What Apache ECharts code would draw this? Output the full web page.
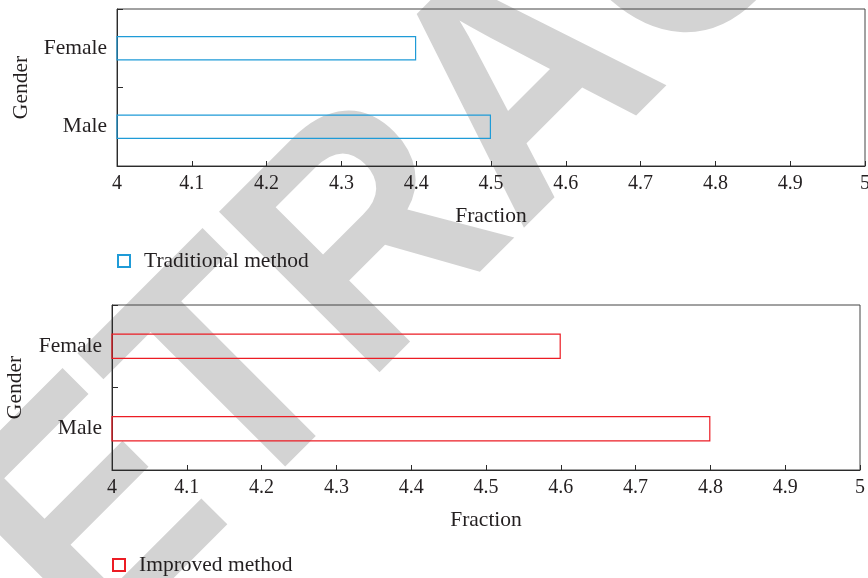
<!DOCTYPE html>
<html>
<head>
<meta charset="utf-8">
<script src="https://cdn.jsdelivr.net/npm/echarts@6/dist/echarts.min.js"></script>
<style>
html,body{margin:0;padding:0;background:#fff;}
#c{width:868px;height:578px;}
</style>
</head>
<body>
<div id="c"></div>
<script>
// ---- data ----
var categories = ['Male', 'Female'];
var traditionalValues = [4.5, 4.4];
var improvedValues = [4.8, 4.6];
var xTickLabels = ['4','4.1','4.2','4.3','4.4','4.5','4.6','4.7','4.8','4.9','5'];
var seriesNames = ['Traditional method', 'Improved method'];
var axisNames = {x: 'Fraction', y: 'Gender'};
var watermarkText = 'RETRACTED';

var SERIF = '"Liberation Serif", "DejaVu Serif", serif';
var TXT = '#231f20';
var AX = '#2b2b2b';
var FS = 21.5;

function xAxisCfg(gi) {
  return {
    type: 'value', gridIndex: gi, min: 4, max: 5, interval: 0.1,
    name: axisNames.x, nameLocation: 'middle', nameGap: 39,
    nameTextStyle: {fontFamily: SERIF, fontSize: FS, color: TXT},
    axisLine: {show: true, lineStyle: {color: AX, width: 1}},
    axisTick: {show: true, inside: true, length: 5, lineStyle: {color: AX}},
    splitLine: {show: false},
    axisLabel: {
      fontFamily: SERIF, fontSize: 20, color: TXT, margin: 8,
      showMinLabel: true, showMaxLabel: true, hideOverlap: false,
      formatter: function (v) { return xTickLabels[Math.round((v - 4) * 10)]; }
    }
  };
}
function yAxisCfg(gi, gap) {
  return {
    type: 'category', gridIndex: gi, data: categories,
    name: axisNames.y, nameLocation: 'middle', nameGap: gap, nameRotate: 90,
    nameTextStyle: {fontFamily: SERIF, fontSize: FS, color: TXT},
    axisLine: {show: true, lineStyle: {color: AX, width: 1}},
    axisTick: {show: true, inside: true, length: 6, lineStyle: {color: AX}},
    axisLabel: {fontFamily: SERIF, fontSize: FS, color: TXT, margin: 10}
  };
}

var chart = echarts.init(document.getElementById('c'), null, {renderer: 'canvas'});
chart.setOption({
  backgroundColor: '#fff',
  animation: false,
  graphic: [{
    type: 'text', z: -100, x: 531, y: 92, rotation: 45 * Math.PI / 180, scaleX: 0.91,
    style: {
      text: watermarkText, x: 0, y: 0, align: 'center', verticalAlign: 'middle',
      font: 'bold 330px "Liberation Sans", Arial, sans-serif', fill: '#d3d3d3'
    }
  }],
  grid: [
    {left: 117, right: 3, top: 9, height: 157, outerBoundsMode: 'none', show: true, borderColor: '#444', borderWidth: 1, backgroundColor: 'transparent'},
    {left: 112, right: 8, top: 305, height: 165, outerBoundsMode: 'none', show: true, borderColor: '#444', borderWidth: 1, backgroundColor: 'transparent'}
  ],
  legend: [
    {data: [seriesNames[0]], left: 112, top: 245, icon: 'rect', itemWidth: 12, itemHeight: 12, itemGap: 10,
     textStyle: {fontFamily: SERIF, fontSize: FS, color: TXT, padding: [0, 0, 0, 9]}},
    {data: [seriesNames[1]], left: 107, top: 549, icon: 'rect', itemWidth: 12, itemHeight: 12, itemGap: 10,
     textStyle: {fontFamily: SERIF, fontSize: FS, color: TXT, padding: [0, 0, 0, 9]}}
  ],
  xAxis: [xAxisCfg(0), xAxisCfg(1)],
  yAxis: [yAxisCfg(0, 85), yAxisCfg(1, 86)],
  series: [
    {name: seriesNames[0], type: 'bar', xAxisIndex: 0, yAxisIndex: 0, data: traditionalValues,
     barWidth: '31%',
     itemStyle: {color: 'rgba(0,0,0,0)', borderColor: '#1f9bd7', borderWidth: 1.2}},
    {name: seriesNames[1], type: 'bar', xAxisIndex: 1, yAxisIndex: 1, data: improvedValues,
     barWidth: '31%',
     itemStyle: {color: 'rgba(0,0,0,0)', borderColor: '#ec1c24', borderWidth: 1.2}}
  ]
});
</script>
</body>
</html>
